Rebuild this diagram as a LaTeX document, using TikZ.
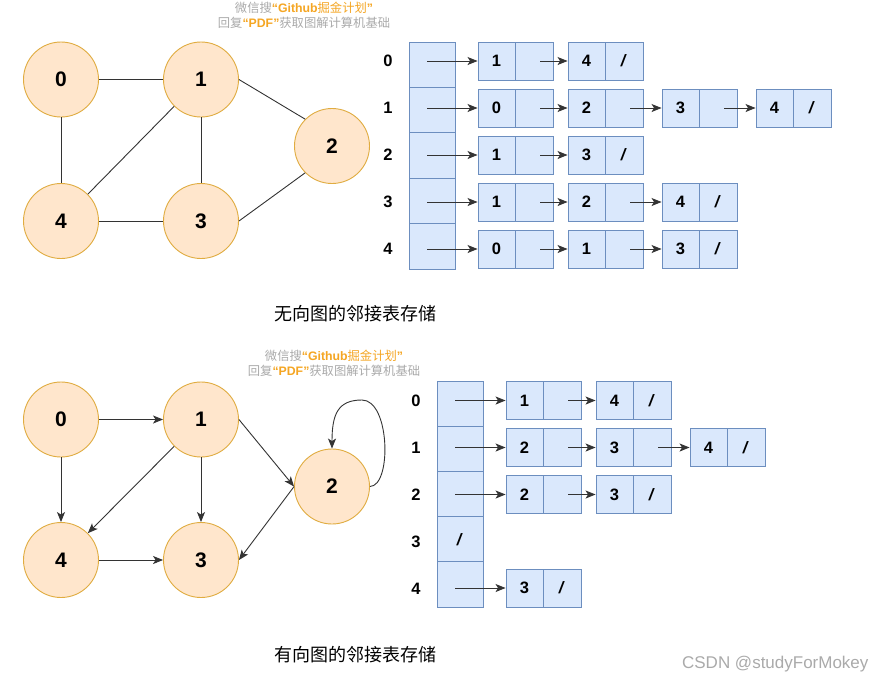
\documentclass[tikz,border=0pt]{standalone}
\usepackage{fontspec}
\setmainfont{Liberation Sans}
\newfontfamily\cjk{Noto Sans CJK SC}
\newfontfamily\wmlat{Liberation Sans}
\usetikzlibrary{arrows.meta}
\definecolor{nodefill}{HTML}{FFE6CC}
\definecolor{nodeline}{HTML}{E0AC40}
\definecolor{cellfill}{HTML}{DAE8FC}
\definecolor{cellline}{HTML}{6C8EBF}
\definecolor{wmgray}{HTML}{AAAAAA}
\definecolor{wmorange}{HTML}{F5A623}
\newcommand\listcell[5]{%
  \node[cellv] (#1v) at (#2+18.5,#3) {#4};
  \node[cellp] (#1p) at (#2+56,#3) {#5};}
\newcommand\nil{\textit{/}}
\newcommand\wmtext{微信搜\textcolor{wmorange}{{\wmlat\bfseries “Github}掘金计划{\wmlat\bfseries ”}}\\回复\textcolor{wmorange}{{\wmlat\bfseries “PDF”}}获取图解计算机基础}
\begin{document}
\begin{tikzpicture}[x=1pt,y=-1pt,
  vtx/.style={circle,draw=nodeline,fill=nodefill,line width=0.9pt,minimum size=75pt,inner sep=0pt,font=\fontsize{21}{21}\selectfont\bfseries},
  edge/.style={draw=black!80,line width=0.9pt},
  arr/.style={edge,-{Stealth[length=10pt,width=8pt,inset=2.5pt]}},
  cellv/.style={draw=cellline,fill=cellfill,line width=0.9pt,minimum width=37pt,minimum height=38pt,inner sep=0pt,font=\fontsize{16.5}{16.5}\selectfont\bfseries},
  cellp/.style={cellv,minimum width=38pt},
  head/.style={draw=cellline,fill=cellfill,line width=0.9pt,minimum width=46pt,minimum height=45.4pt,inner sep=0pt,font=\fontsize{16.5}{16.5}\selectfont\bfseries},
  rowlab/.style={font=\fontsize{16.5}{16.5}\selectfont\bfseries},
  caption/.style={font=\cjk\fontsize{18}{18}\selectfont},
  wm/.style={font=\cjk\fontsize{12.3}{15}\selectfont,text=wmgray,align=center}
]
\useasboundingbox (0,0) rectangle (888,686);
\fill[white] (0,0) rectangle (888,686);

% ---------- watermarks ----------
\node[wm] (wmA) at (304,15) {\wmtext};
\node[wm] (wmB) at (334,363) {\wmtext};
\node[font=\fontsize{17}{17}\selectfont,text=wmgray,anchor=east] (csdn) at (872,664) {CSDN @studyForMokey};

% ---------- undirected graph ----------
\node[vtx] (a0) at (61,79.5) {0};
\node[vtx] (a1) at (201,79.5) {1};
\node[vtx] (a2) at (332,146) {2};
\node[vtx] (a3) at (201,221) {3};
\node[vtx] (a4) at (61,221) {4};
\draw[edge] (a0.east) -- (a1.west);
\draw[edge] (a0.south) -- (a4.north);
\draw[edge] (a1.225) -- (a4.45);
\draw[edge] (a1.south) -- (a3.north);
\draw[edge] (a4.east) -- (a3.west);
\draw[edge] (a1.east) -- (a2.135);
\draw[edge] (a3.east) -- (a2.225);

% ---------- undirected adjacency list ----------
\foreach \i in {0,...,4} {
  \node[head] (hA\i) at (432,42+45.4*\i+22.7) {};
  \node[rowlab] (lA\i) at (388,61+47*\i) {\i};
}
% row 0
\listcell{tA00}{478}{61}{1}{}
\listcell{tA01}{568}{61}{4}{\nil}
% row 1
\listcell{tA10}{478}{108}{0}{}
\listcell{tA11}{568}{108}{2}{}
\listcell{tA12}{662}{108}{3}{}
\listcell{tA13}{756}{108}{4}{\nil}
% row 2
\listcell{tA20}{478}{155}{1}{}
\listcell{tA21}{568}{155}{3}{\nil}
% row 3
\listcell{tA30}{478}{202}{1}{}
\listcell{tA31}{568}{202}{2}{}
\listcell{tA32}{662}{202}{4}{\nil}
% row 4
\listcell{tA40}{478}{249}{0}{}
\listcell{tA41}{568}{249}{1}{}
\listcell{tA42}{662}{249}{3}{\nil}

\foreach \r in {0,...,4} {
  \draw[arr,shorten <=-5pt] (hA\r.center |- tA\r0v.west) -- (tA\r0v.west);
}
\draw[arr] ([xshift=6pt]tA00p.center) -- (tA01v.west);
\draw[arr] ([xshift=6pt]tA10p.center) -- (tA11v.west);
\draw[arr] ([xshift=6pt]tA11p.center) -- (tA12v.west);
\draw[arr] ([xshift=6pt]tA12p.center) -- (tA13v.west);
\draw[arr] ([xshift=6pt]tA20p.center) -- (tA21v.west);
\draw[arr] ([xshift=6pt]tA30p.center) -- (tA31v.west);
\draw[arr] ([xshift=6pt]tA31p.center) -- (tA32v.west);
\draw[arr] ([xshift=6pt]tA40p.center) -- (tA41v.west);
\draw[arr] ([xshift=6pt]tA41p.center) -- (tA42v.west);

\node[caption] (capA) at (355,314) {无向图的邻接表存储};

% ---------- directed graph ----------
\node[vtx] (b0) at (61,419.5) {0};
\node[vtx] (b1) at (201,419.5) {1};
\node[vtx] (b2) at (332,486.5) {2};
\node[vtx] (b3) at (201,560) {3};
\node[vtx] (b4) at (61,560) {4};
\draw[arr] (b0.east) -- (b1.west);
\draw[arr] (b0.south) -- (b4.north);
\draw[arr] (b1.225) -- (b4.45);
\draw[arr] (b1.south) -- (b3.north);
\draw[arr] (b4.east) -- (b3.west);
\draw[arr] (b1.east) -- (b2.west);
\draw[arr] (b2.west) -- (b3.east);
\draw[arr] (b2.east) .. controls (392,486) and (390,400) .. (362,400)
                     .. controls (338,400) and (332,414) .. (b2.north);

% ---------- directed adjacency list ----------
\foreach \i in {0,...,4} {
  \node[rowlab] (lB\i) at (416,400.5+47*\i) {\i};
}
\node[head] (hB0) at (460,382+22.5) {};
\node[head] (hB1) at (460,382+45*1+22.5) {};
\node[head] (hB2) at (460,382+45*2+22.5) {};
\node[head] (hB3) at (460,382+45*3+22.5) {\nil};
\node[head] (hB4) at (460,382+45*4+22.5) {};
% row 0
\listcell{tB00}{506}{400.5}{1}{}
\listcell{tB01}{596}{400.5}{4}{\nil}
% row 1
\listcell{tB10}{506}{447.5}{2}{}
\listcell{tB11}{596}{447.5}{3}{}
\listcell{tB12}{690}{447.5}{4}{\nil}
% row 2
\listcell{tB20}{506}{494.5}{2}{}
\listcell{tB21}{596}{494.5}{3}{\nil}
% row 4
\listcell{tB40}{506}{588}{3}{\nil}

\draw[arr,shorten <=-5pt] (hB0.center |- tB00v.west) -- (tB00v.west);
\draw[arr,shorten <=-5pt] (hB1.center |- tB10v.west) -- (tB10v.west);
\draw[arr,shorten <=-5pt] (hB2.center |- tB20v.west) -- (tB20v.west);
\draw[arr,shorten <=-5pt] (hB4.center |- tB40v.west) -- (tB40v.west);
\draw[arr] ([xshift=6pt]tB00p.center) -- (tB01v.west);
\draw[arr] ([xshift=6pt]tB10p.center) -- (tB11v.west);
\draw[arr] ([xshift=6pt]tB11p.center) -- (tB12v.west);
\draw[arr] ([xshift=6pt]tB20p.center) -- (tB21v.west);

\node[caption] (capB) at (355,655) {有向图的邻接表存储};
\end{tikzpicture}
\end{document}
